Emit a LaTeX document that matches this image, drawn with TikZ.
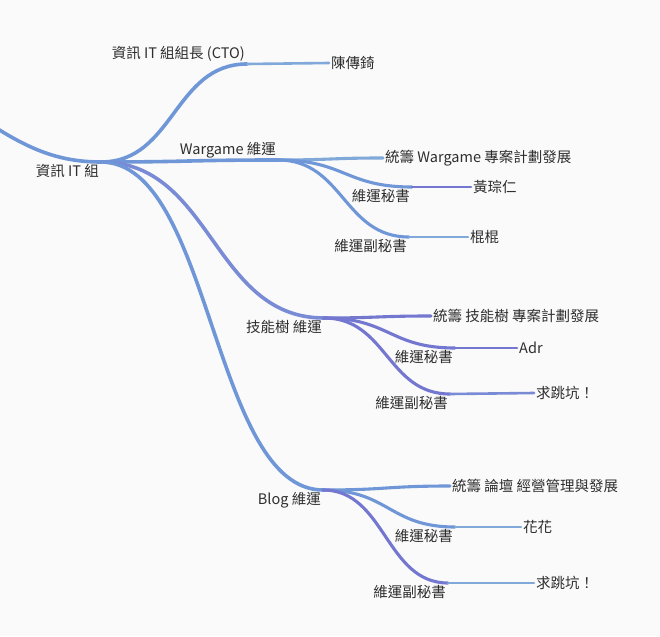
\documentclass[tikz,border=0pt]{standalone}
\usepackage{fontspec}
\setmainfont{Noto Sans CJK TC}
\usetikzlibrary{calc}
\definecolor{mmblue}{HTML}{6F97D8}
\definecolor{mmpale}{HTML}{80A9DA}
\definecolor{mmviolet}{HTML}{7477CF}
\definecolor{mmmid}{HTML}{7A8BD6}
\definecolor{mmtext}{HTML}{2E2E2E}
\definecolor{mmback}{HTML}{FAFAFA}
% markmap style link, horizontal at both ends
\newcommand\mmlink[3]{\draw[#3] let \p1=(#1), \p2=(#2) in (\p1) .. controls ({(\x1+\x2)/2},\y1) and ({(\x1+\x2)/2},\y2) .. (\p2);}
\begin{document}
\begin{tikzpicture}[x=1pt, y=-1pt, line cap=round,
    lbl/.style={text=mmtext, inner sep=2pt, font=\fontsize{14.5}{16}\selectfont},
    below lbl/.style={lbl, anchor=north east},
    above lbl/.style={lbl, anchor=south east},
    leaf lbl/.style={lbl, anchor=west},
    main/.style={line width=3.6pt},
    sub/.style={line width=3.1pt},
    twig/.style={line width=2.6pt}]
    \fill[mmback] (0,0) rectangle (660,636);
    \clip (0,0) rectangle (660,636);
    % points where the links meet
    \coordinate (in) at (-10,124);
    \coordinate (R) at (101,162);
    \coordinate (C) at (247,64);   \coordinate (C1) at (329,63);
    \coordinate (W) at (278,160);  \coordinate (W1) at (383,158);
    \coordinate (W2) at (412,187); \coordinate (W21) at (471,187);
    \coordinate (W3) at (409,237); \coordinate (W31) at (468,237);
    \coordinate (S) at (324,318);  \coordinate (S1) at (431,316);
    \coordinate (S2) at (455,348); \coordinate (S21) at (517,348);
    \coordinate (S3) at (450,394); \coordinate (S31) at (534,393);
    \coordinate (B) at (323,490);  \coordinate (B1) at (450,486);
    \coordinate (B2) at (455,527); \coordinate (B21) at (521,527);
    \coordinate (B3) at (448,583); \coordinate (B31) at (534,583);
    % links
    \draw[main, mmblue] (in) .. controls (30,150) and (60,162) .. (R);
    \mmlink{R}{C}{main, mmblue}
    \mmlink{C}{C1}{twig, mmpale}
    \mmlink{R}{W}{main, mmblue}
    \mmlink{W}{W1}{sub, mmpale}
    \mmlink{W}{W2}{sub, mmblue}
    \mmlink{W2}{W21}{twig, mmviolet}
    \mmlink{W}{W3}{sub, mmblue}
    \mmlink{W3}{W31}{twig, mmpale}
    \mmlink{R}{S}{main, mmmid}
    \mmlink{S}{S1}{sub, mmviolet}
    \mmlink{S}{S2}{sub, mmviolet}
    \mmlink{S2}{S21}{twig, mmviolet}
    \mmlink{S}{S3}{sub, mmviolet}
    \mmlink{S3}{S31}{twig, mmmid}
    \mmlink{R}{B}{main, mmblue}
    \mmlink{B}{B1}{sub, mmblue}
    \mmlink{B}{B2}{sub, mmblue}
    \mmlink{B2}{B21}{twig, mmpale}
    \mmlink{B}{B3}{sub, mmviolet}
    \mmlink{B3}{B31}{twig, mmpale}
    % labels
    \node[below lbl] (tR) at (R) {資訊 IT 組};
    \node[above lbl] (tC) at (C) {資訊 IT 組組長 (CTO)};
    \node[leaf lbl] (tC1) at (C1) {陳傳錡};
    \node[above lbl] (tW) at (W) {Wargame 維運};
    \node[leaf lbl] (tW1) at (W1) {統籌 Wargame 專案計劃發展};
    \node[below lbl] (tW2) at (W2) {維運秘書};
    \node[leaf lbl] (tW21) at (W21) {黃琮仁};
    \node[below lbl] (tW3) at (W3) {維運副秘書};
    \node[leaf lbl] (tW31) at (W31) {棍棍};
    \node[below lbl] (tS) at (S) {技能樹 維運};
    \node[leaf lbl] (tS1) at (S1) {統籌 技能樹 專案計劃發展};
    \node[below lbl] (tS2) at (S2) {維運秘書};
    \node[leaf lbl] (tS21) at (S21) {Adr};
    \node[below lbl] (tS3) at (S3) {維運副秘書};
    \node[leaf lbl] (tS31) at (S31) {求跳坑！};
    \node[below lbl] (tB) at (B) {Blog 維運};
    \node[leaf lbl] (tB1) at (B1) {統籌 論壇 經營管理與發展};
    \node[below lbl] (tB2) at (B2) {維運秘書};
    \node[leaf lbl] (tB21) at (B21) {花花};
    \node[below lbl] (tB3) at (B3) {維運副秘書};
    \node[leaf lbl] (tB31) at (B31) {求跳坑！};
\end{tikzpicture}
\end{document}
